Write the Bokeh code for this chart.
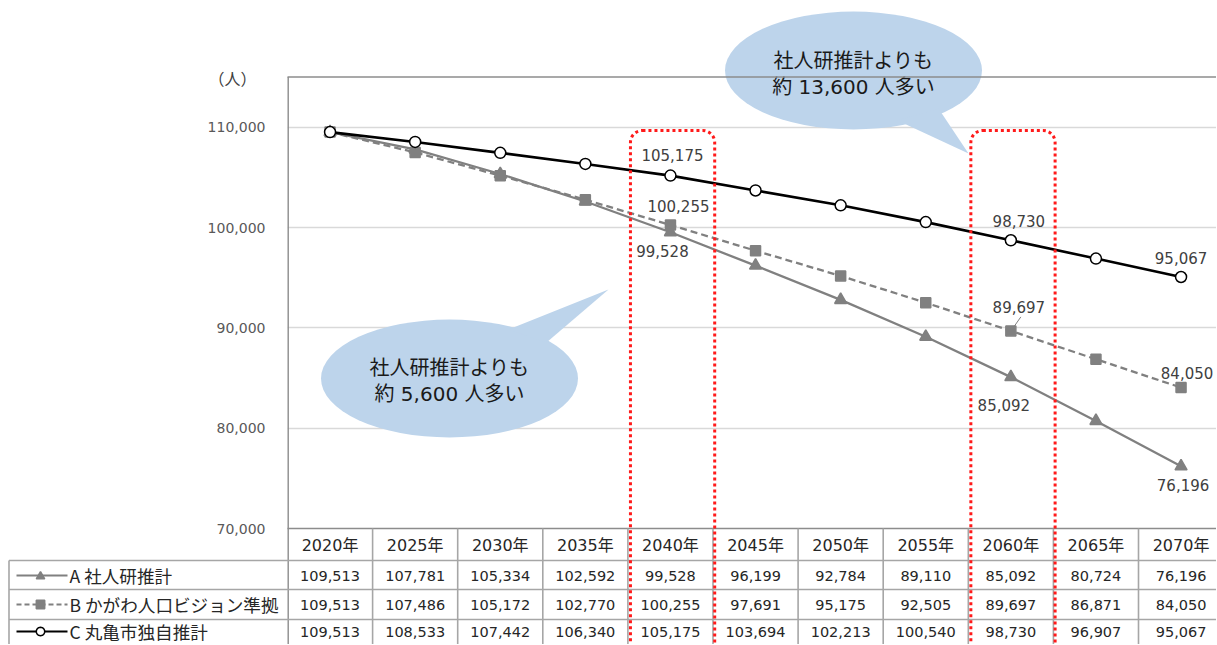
import math
from bokeh.plotting import figure
from bokeh.models import Range1d, FixedTicker, NumeralTickFormatter
from bokeh.core.properties import value
from bokeh.embed import file_html
from bokeh.resources import INLINE

# ---------------- data ----------------
years = [2020, 2025, 2030, 2035, 2040, 2045, 2050, 2055, 2060, 2065, 2070]
year_labels = ["2020年", "2025年", "2030年", "2035年", "2040年", "2045年",
               "2050年", "2055年", "2060年", "2065年", "2070年"]
series_names = ["A 社人研推計", "B かがわ人口ビジョン準拠", "C 丸亀市独自推計"]
pop_a = [109513, 107781, 105334, 102592, 99528, 96199, 92784, 89110, 85092, 80724, 76196]
pop_b = [109513, 107486, 105172, 102770, 100255, 97691, 95175, 92505, 89697, 86871, 84050]
pop_c = [109513, 108533, 107442, 106340, 105175, 103694, 102213, 100540, 98730, 96907, 95067]
y_ticks = [70000, 80000, 90000, 100000, 110000]
y_top_value = 115000
label_years = [2040, 2060, 2070]
highlight_years = [2040, 2060]
callout_upper = ["社人研推計よりも", "約 13,600 人多い"]
callout_lower = ["社人研推計よりも", "約 5,600 人多い"]
unit_label = "（人）"

# ---------------- layout (pixels) ----------------
W, H = 1216, 644
PL = 287            # plot area left edge
CW = 85.1           # category width
Y110, Y70 = 126.7, 528.0
PPU = (Y70 - Y110) / (110000 - 70000)
ROW_LINES = [560, 589, 619]
ROW_CENTERS = [575, 604, 631]
HEADER_CENTER = 545
TL = 8.5            # table left edge
BOX_TOP = 130

JP = value("Noto Sans CJK JP")
NUM = value("DejaVu Sans")
MIX = value("DejaVu Sans, Noto Sans CJK JP")

n = len(years)
idx = list(range(n))
x_end = -0.5 + (W - PL) / CW
y_start = 70000 - (H - Y70) / PPU
y_end = 70000 + Y70 / PPU

p = figure(width=W, height=H, output_backend="svg", toolbar_location=None,
           x_range=Range1d(-0.5, x_end), y_range=Range1d(y_start, y_end),
           min_border_left=PL, min_border_right=0, min_border_top=0, min_border_bottom=0,
           x_axis_location=None, y_axis_location="left")
p.extra_x_ranges = {"px": Range1d(PL, W)}
p.extra_y_ranges = {"px": Range1d(H, 0)}
p.outline_line_color = None
p.background_fill_color = "white"
p.border_fill_color = "white"
p.xgrid.visible = False
p.ygrid.ticker = FixedTicker(ticks=y_ticks[1:])
p.ygrid.grid_line_color = "#D9D9D9"
p.ygrid.grid_line_width = 1.3

yax = p.yaxis[0]
yax.ticker = FixedTicker(ticks=y_ticks)
yax.formatter = NumeralTickFormatter(format="0,0")
yax.axis_line_color = None
yax.major_tick_line_color = None
yax.minor_tick_line_color = None
yax.major_tick_out = 0
yax.major_tick_in = 0
yax.major_label_standoff = 22
yax.major_label_text_font = "DejaVu Sans"
yax.major_label_text_font_size = "14px"
yax.major_label_text_color = "#595959"

# unit label
p.text(x=[232], y=[77], text=[unit_label], x_range_name="px", y_range_name="px",
       text_font=JP, text_font_size="16px", text_color="#404040",
       text_align="center", text_baseline="middle", level="overlay")

# ---------------- callout bubbles ----------------
BUB_FILL = "#BDD4EB"
bubbles = [
    dict(cx=853, cy=70, tip=[(897, 120), (938, 108), (968, 153)], lines=callout_upper, ty=[60, 86]),
    dict(cx=449, cy=378, tip=[(508, 329), (546, 342), (608, 289)], lines=callout_lower, ty=[367, 393]),
]
for b in bubbles:
    p.ellipse(x=[b["cx"]], y=[b["cy"]], width=257, height=118, width_units="screen",
              height_units="screen", x_range_name="px", y_range_name="px",
              fill_color=BUB_FILL, line_color=None)
    p.patch(x=[t[0] for t in b["tip"]], y=[t[1] for t in b["tip"]],
            x_range_name="px", y_range_name="px", fill_color=BUB_FILL, line_color=None)
    p.text(x=[b["cx"]] * 2, y=b["ty"], text=b["lines"], x_range_name="px", y_range_name="px",
           text_font=MIX, text_font_size="20px", text_color="#1A1A1A",
           text_align="center", text_baseline="middle")

# ---------------- series ----------------
styles = [
    dict(color="#808080", width=2.3, dash="solid", legend_dash="solid", marker="triangle",
         size=12, fill="#808080", mline="#808080"),
    dict(color="#808080", width=2.3, dash="7 4", legend_dash="5 3", marker="square",
         size=10, fill="#808080", mline="#808080"),
    dict(color="#000000", width=2.6, dash="solid", legend_dash="solid", marker="circle",
         size=11, fill="#FFFFFF", mline="#000000"),
]
series = [pop_a, pop_b, pop_c]
for vals, st in zip(series, styles):
    p.line(x=idx, y=vals, line_color=st["color"], line_width=st["width"], line_dash=st["dash"])
for vals, st in zip(series, styles):
    p.scatter(x=idx, y=vals, marker=st["marker"], size=st["size"], fill_color=st["fill"],
              line_color=st["mline"], line_width=1.5)

# data labels (offsets in screen px)
label_offsets = [
    [(-8, 19), (-7, 28), (2, 19)],
    [(8, -19), (8, -24), (6, -15)],
    [(2, -21), (8, -19), (0, -19)],
]
for vals, offs in zip(series, label_offsets):
    for yr, (dx, dy) in zip(label_years, offs):
        i = years.index(yr)
        p.text(x=[i], y=[vals[i]], text=[f"{vals[i]:,}"], x_offset=dx, y_offset=dy,
               text_font=NUM, text_font_size="15px", text_color="#404040",
               text_align="center", text_baseline="middle")

# small leader line of the 2060 label on series B
i60 = years.index(2060)
p.segment(x0=[i60 + 10 / CW], y0=[pop_b[i60] + 14 / PPU], x1=[i60 + 3 / CW], y1=[pop_b[i60] + 4 / PPU],
          line_color="#808080", line_width=1)

# ---------------- plot border & table ----------------
BORDER = "#8C8C8C"
TABLE = "#A6A6A6"
p.segment(x0=[-0.5], y0=[y_top_value], x1=[x_end], y1=[y_top_value],
          line_color=BORDER, line_width=1.4, level="overlay")
p.segment(x0=[PL + 0.7], y0=[Y70 - (y_top_value - 70000) * PPU], x1=[PL + 0.7], y1=[H],
          x_range_name="px", y_range_name="px", line_color=BORDER, line_width=1.4, level="overlay")
p.segment(x0=[-0.5], y0=[y_ticks[0]], x1=[x_end], y1=[y_ticks[0]],
          line_color=BORDER, line_width=1.4, level="overlay")
p.segment(x0=[TL] * len(ROW_LINES), y0=ROW_LINES, x1=[W] * len(ROW_LINES), y1=ROW_LINES,
          x_range_name="px", y_range_name="px", line_color=TABLE, line_width=1.6, level="overlay")
p.segment(x0=[i + 0.5 for i in idx], y0=[Y70] * n, x1=[i + 0.5 for i in idx], y1=[H] * n,
          y_range_name="px", line_color=TABLE, line_width=1.6, level="overlay")
p.segment(x0=[TL], y0=[ROW_LINES[0]], x1=[TL], y1=[H], x_range_name="px", y_range_name="px",
          line_color=TABLE, line_width=1.6, level="overlay")

p.text(x=idx, y=[HEADER_CENTER] * n, text=year_labels, y_range_name="px",
       text_font=MIX, text_font_size="16px", text_color="#262626",
       text_align="center", text_baseline="middle", level="overlay")


def key_shape(kind, cx, cy, r):
    if kind == "triangle":
        return [cx - r, cx + r, cx], [cy + r * 0.8, cy + r * 0.8, cy - r * 0.9]
    if kind == "square":
        return [cx - r, cx + r, cx + r, cx - r], [cy - r, cy - r, cy + r, cy + r]
    angs = [2 * math.pi * k / 28 for k in range(28)]
    return [cx + r * math.cos(a) for a in angs], [cy + r * math.sin(a) for a in angs]


KEY_X0, KEY_X1, KEY_M, TEXT_X = 16, 67, 40, 69
for r, (vals, st, name) in enumerate(zip(series, styles, series_names)):
    yc = ROW_CENTERS[r]
    p.text(x=idx, y=[yc] * n, text=[f"{v:,}" for v in vals], y_range_name="px",
           text_font=NUM, text_font_size="14.5px", text_color="#262626",
           text_align="center", text_baseline="middle", level="overlay")
    p.segment(x0=[KEY_X0], y0=[yc], x1=[KEY_X1], y1=[yc], x_range_name="px", y_range_name="px",
              line_color=st["color"], line_width=st["width"] - 0.5, line_dash=st["legend_dash"],
              level="overlay")
    kx, ky = key_shape(st["marker"], KEY_M, yc, 4.2)
    p.patch(x=kx, y=ky, x_range_name="px", y_range_name="px", fill_color=st["fill"],
            line_color=st["mline"], line_width=1.5, level="overlay")
    p.text(x=[TEXT_X], y=[yc], text=[name], x_range_name="px", y_range_name="px",
           text_font=JP, text_font_size="17.6px", text_color="#262626",
           text_align="left", text_baseline="middle", level="overlay")

# ---------------- highlight boxes ----------------
for yr in highlight_years:
    i = years.index(yr)
    p.quad(left=[i - 0.47], right=[i + 0.52], top=[BOX_TOP], bottom=[H + 40],
           y_range_name="px", border_radius=12, fill_color=None,
           line_color="#FF1A1A", line_width=3, line_dash="3 3", level="overlay")

open("out.html", "w").write(file_html(p, INLINE))
